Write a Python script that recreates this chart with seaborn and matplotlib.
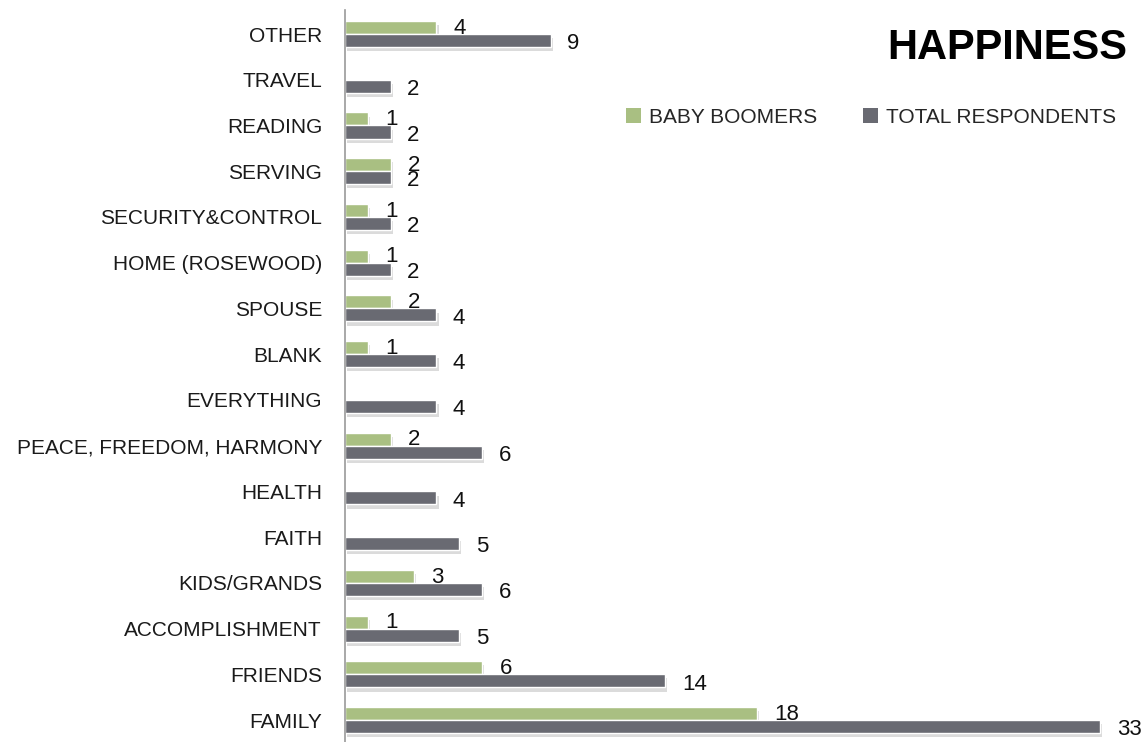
import matplotlib
matplotlib.use("Agg")
import matplotlib.pyplot as plt
import matplotlib.patheffects as pe
from matplotlib.patches import Patch
import seaborn as sns
import pandas as pd

categories = ["OTHER", "TRAVEL", "READING", "SERVING", "SECURITY&CONTROL",
              "HOME (ROSEWOOD)", "SPOUSE", "BLANK", "EVERYTHING",
              "PEACE, FREEDOM, HARMONY", "HEALTH", "FAITH", "KIDS/GRANDS",
              "ACCOMPLISHMENT", "FRIENDS", "FAMILY"]
baby_boomers = [4, 0, 1, 2, 1, 1, 2, 1, 0, 2, 0, 0, 3, 1, 6, 18]
total_respondents = [9, 2, 2, 2, 2, 2, 4, 4, 4, 6, 4, 5, 6, 5, 14, 33]
series = ["BABY BOOMERS", "TOTAL RESPONDENTS"]
colors = ["#a9bf82", "#696a72"]

sns.set_theme(style="white")
plt.rcParams["font.family"] = ["Liberation Sans", "DejaVu Sans"]

df = pd.DataFrame({
    "category": categories * 2,
    "value": baby_boomers + total_respondents,
    "series": [series[0]] * len(categories) + [series[1]] * len(categories),
})

fig = plt.figure(figsize=(11.46, 7.42), dpi=100)
ax = fig.add_axes([0.301, 0.0, 0.699, 0.9865])
sns.barplot(data=df, y="category", x="value", hue="series", order=categories,
            hue_order=series, palette=colors, orient="h", width=0.57,
            saturation=1, ax=ax, legend=False)

shadow = [pe.SimplePatchShadow(offset=(1.5, -3), shadow_rgbFace="#9a9a9a", alpha=0.35), pe.Normal()]
for bar in ax.patches:
    bar.set_path_effects(shadow)

for i, container in enumerate(ax.containers):
    vals = baby_boomers if i == 0 else total_respondents
    labs = [str(v) if v > 0 else "" for v in vals]
    pad = 12.5 if i == 0 else 11.8
    anns = ax.bar_label(container, labels=labs, padding=pad, fontsize=16, color="#111111")
    dy = -0.5 if i == 0 else -2.3
    for a in anns:
        a.xyann = (pad, dy)

ax.set_xlim(0, 35)
ax.set_ylim(15.48, -0.525)
ax.set_xlabel("")
ax.set_ylabel("")
ax.set_xticks([])
for s in ["top", "right", "bottom"]:
    ax.spines[s].set_visible(False)
ax.spines["left"].set_color("#9a9a9a")
ax.spines["left"].set_linewidth(1.2)
ax.tick_params(axis="y", length=0, pad=16.5, labelsize=15, labelcolor="#1a1a1a")

handles = [Patch(facecolor=c, edgecolor="none") for c in colors]
fig.legend(handles, series, loc="center left", bbox_to_anchor=(0.53, 0.842),
           ncol=2, frameon=False, fontsize=15, handlelength=0.7, handleheight=0.7,
           handletextpad=0.4, columnspacing=2.2)
fig.text(0.984, 0.935, "HAPPINESS", ha="right", va="center", fontsize=30,
         fontweight="bold", color="#000000")

fig.savefig("out.png", dpi=100, facecolor="white")
